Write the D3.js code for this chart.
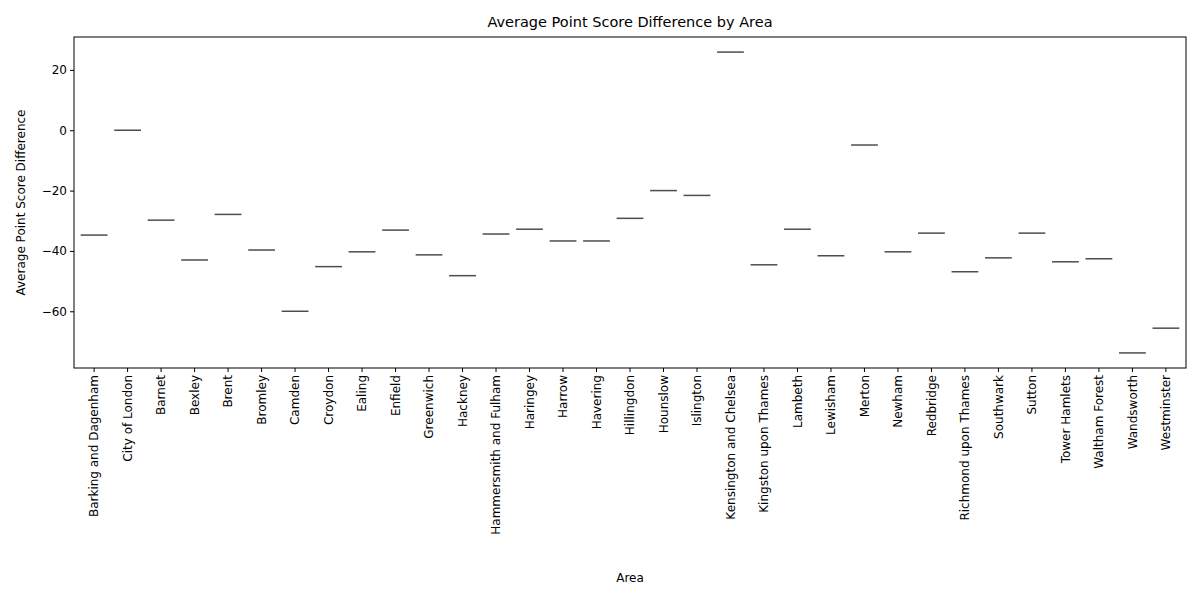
<!DOCTYPE html>
<html><head><meta charset="utf-8">
<script src="https://cdn.jsdelivr.net/npm/d3@7"></script>
<style>body{margin:0;background:#fff;} svg text{font-family:"DejaVu Sans",sans-serif;}</style>
</head><body><svg id="chart" width="1200" height="600"></svg>
<script>
const areas = ["Barking and Dagenham","City of London","Barnet","Bexley","Brent","Bromley","Camden","Croydon","Ealing","Enfield","Greenwich","Hackney","Hammersmith and Fulham","Haringey","Harrow","Havering","Hillingdon","Hounslow","Islington","Kensington and Chelsea","Kingston upon Thames","Lambeth","Lewisham","Merton","Newham","Redbridge","Richmond upon Thames","Southwark","Sutton","Tower Hamlets","Waltham Forest","Wandsworth","Westminster"];
const scores = [-34.75,0,-29.8,-43,-27.9,-39.7,-60,-45.2,-40.3,-33.1,-41.3,-48.2,-34.4,-32.8,-36.7,-36.7,-29.2,-20,-21.6,25.9,-44.6,-32.8,-41.6,-4.9,-40.3,-34.1,-46.9,-42.3,-34.1,-43.6,-42.6,-73.8,-65.6];
const yTicks = [20,0,-20,-40,-60];

const margin = {top: 37, right: 14, bottom: 232, left: 74};
const width = 1200 - margin.left - margin.right;
const height = 600 - margin.top - margin.bottom;

const svg = d3.select('#chart');
const g = svg.append('g').attr('transform', `translate(${margin.left},${margin.top})`);

const xscale = d3.scaleBand().domain(areas).range([0, width]).padding(0.2);
const yscale = d3.scaleLinear().domain([-78.8, 30.9]).range([height, 0]);

// marks: single-value boxes collapse to a line
g.selectAll('line.box').data(areas).enter().append('line')
  .attr('class', 'box')
  .attr('x1', (d) => xscale(d))
  .attr('x2', (d) => xscale(d) + xscale.bandwidth())
  .attr('y1', (d, i) => yscale(scores[i]))
  .attr('y2', (d, i) => yscale(scores[i]))
  .attr('stroke', '#4d4d4d').attr('stroke-width', 1.5);

const xaxis = d3.axisBottom(xscale).tickSizeOuter(0).tickSize(4);
const gx = g.append('g').attr('transform', `translate(0,${height})`).call(xaxis);
gx.selectAll('text').attr('transform', 'rotate(-90)').attr('text-anchor', 'end')
  .attr('x', -7).attr('y', 0).attr('dy', '0.35em').style('font-size', '12px').attr('fill', '#000');

const yaxis = d3.axisLeft(yscale).tickValues(yTicks).tickSize(4);
const gy = g.append('g').call(yaxis);
gy.selectAll('text').style('font-size', '12px').attr('fill', '#000');
svg.selectAll('.domain').remove();

g.append('rect').attr('width', width).attr('height', height)
  .attr('fill', 'none').attr('stroke', '#000').attr('stroke-width', 1);

svg.append('text').attr('x', margin.left + width / 2).attr('y', 27)
  .attr('text-anchor', 'middle').style('font-size', '14.5px').text('Average Point Score Difference by Area');
svg.append('text').attr('x', margin.left + width / 2).attr('y', 582)
  .attr('text-anchor', 'middle').style('font-size', '12px').text('Area');
svg.append('text').attr('transform', `translate(25,${margin.top + height / 2}) rotate(-90)`)
  .attr('text-anchor', 'middle').style('font-size', '12px').text('Average Point Score Difference');
</script></body></html>
